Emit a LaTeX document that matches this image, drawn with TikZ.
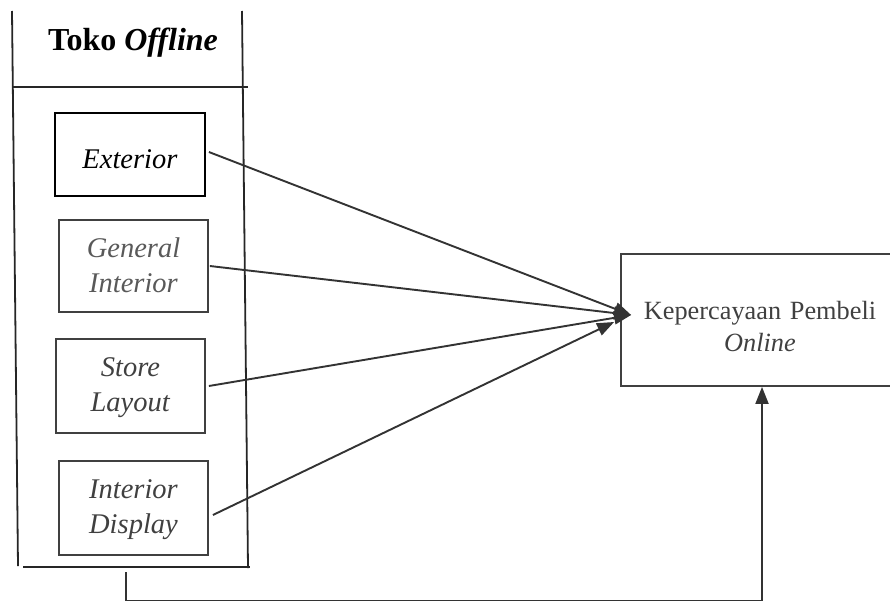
\documentclass[tikz,border=0pt]{standalone}
\usepackage{fontspec}
\setmainfont{Liberation Serif}
\usetikzlibrary{arrows.meta}
\begin{document}
\begin{tikzpicture}[x=1pt,y=-1pt,
  lane/.style={draw=black!85, line width=1.8pt},
  fbox/.style={draw=black!75, line width=1.8pt, inner sep=0pt, minimum width=149pt},
  lbl/.style={text=black!75, font=\fontsize{28.5}{35.5}\selectfont, align=center, text width=145pt, anchor=base, inner sep=0pt},
  arr/.style={draw=black!80, line width=1.9pt, -{Triangle[length=17pt,width=13pt]}}
]
\useasboundingbox (0,0) rectangle (890,602);

% swimlane
\coordinate (tl) at (12,11);
\coordinate (bl) at (18,566);
\coordinate (tr) at (242,11);
\coordinate (br) at (248,568);
\coordinate (hl) at (12,87);
\coordinate (hr) at (248,87);
\coordinate (fl) at (23,567);
\coordinate (fr) at (250,567);
\draw[lane] (tl) -- (bl);
\draw[lane] (tr) -- (br);
\draw[lane] (hl) -- (hr);
\draw[lane] (fl) -- (fr);
\node[anchor=base, inner sep=0pt, font=\fontsize{32}{38}\selectfont] (title) at (133,50) {\textbf{Toko \textit{Offline}}};

% factor boxes
\node[fbox, draw=black, minimum width=150pt, minimum height=83pt] (ext) at (130,154.5) {};
\node[fbox, minimum height=92pt] (gen) at (133.5,266) {};
\node[fbox, minimum height=94pt] (sto) at (130.5,386) {};
\node[fbox, minimum height=94pt] (dis) at (133.5,508) {};

\node[lbl, text=black] (extt) at (130,168) {\textit{Exterior}};
\node[lbl, text=black!65] (gent) at (133.5,257) {\textit{General}\\\textit{Interior}};
\node[lbl] (stot) at (130.5,376) {\textit{Store}\\\textit{Layout}};
\node[lbl] (dist) at (133.5,498) {\textit{Interior}\\\textit{Display}};

% target box
\node[fbox, minimum width=278pt, minimum height=132pt] (kep) at (760,320) {};
\node[lbl, text width=270pt, font=\fontsize{26.3}{32.5}\selectfont] (kept) at (760,319) {Kepercayaan Pembeli\\\textit{Online}};

\coordinate (tip) at ([shift={(11,-5)}]kep.west);
\coordinate (tip2) at ([shift={(-6,2)}]kep.west);

\draw[arr] ([shift={(3,-2.5)}]ext.east) -- (tip);
\draw[arr] ([xshift=1pt]gen.east) -- (tip);
\draw[arr] ([xshift=3pt]sto.east) -- (tip);
\draw[arr] ([shift={(4,7)}]dis.east) -- (tip2);

% feedback line
\coordinate (fb) at (126,572);
\coordinate (up) at (762,600.5);
\draw[arr] (fb) |- (up) -- (kep.south -| up);
\end{tikzpicture}
\end{document}
